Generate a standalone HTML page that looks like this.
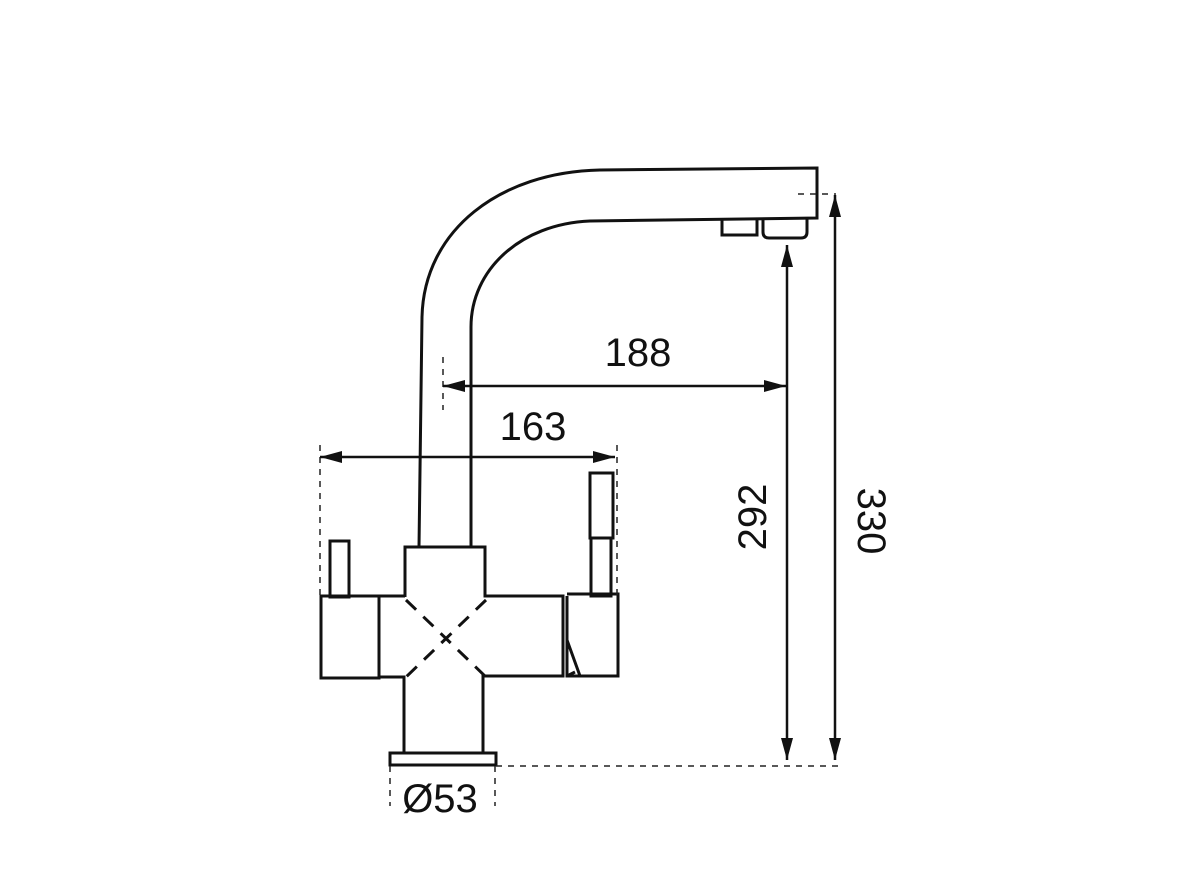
<!DOCTYPE html>
<html><head><style>body{margin:0;background:#fff}svg{display:block}</style></head><body>
<svg width="1200" height="880" viewBox="0 0 1200 880" xmlns="http://www.w3.org/2000/svg">
<defs>
<marker id="a" viewBox="0 0 22 12" refX="22" refY="6" markerWidth="22" markerHeight="12" markerUnits="userSpaceOnUse" orient="auto-start-reverse"><path d="M0 0L22 6L0 12z" fill="#111"/></marker>
</defs>
<g fill="none" stroke="#111" stroke-width="3">
<path d="M419 547 L422 317 C424 230 500 172 600 170 L817 168 L817 218 L590 221 C520 224 471 270 471 327 L471 547"/>
<path d="M722 219 V235 H757 V219"/>
<path d="M763 219 V232 Q763 238 769 238 H801 Q807 238 807 232 V219"/>
<path d="M405 597 V547 H485 V596 H563 V676 H483 V754 M404 754 V677 H379"/>
<rect x="321" y="596" width="58" height="82"/>
<rect x="330" y="541" width="19" height="56"/>
<rect x="390" y="753" width="106" height="12"/>
<path d="M379 596 H405"/>
<path d="M567 596 V676 H618 V594 H567"/>
<path d="M567 640 L580 676 M567 676 L575 672"/>
<rect x="590" y="473" width="23" height="65"/>
<rect x="591" y="538" width="20" height="58"/>
</g>
<g stroke="#111" stroke-width="3" stroke-dasharray="14 10">
<path d="M406 600 L486 677"/><path d="M486 600 L406 677"/>
</g>
<g stroke="#222" stroke-width="1.5" stroke-dasharray="6 6" fill="none">
<path d="M320 445 V596"/><path d="M617 445 V596"/>
<path d="M443 357 V410"/>
<path d="M496 766 H838"/>
<path d="M798 194 H836"/>
<path d="M390 766 V806"/><path d="M495 766 V806"/>
</g>
<g stroke="#111" stroke-width="2.5">
<line x1="320" y1="457" x2="615" y2="457" marker-start="url(#a)" marker-end="url(#a)"/>
<line x1="443" y1="386" x2="786" y2="386" marker-start="url(#a)" marker-end="url(#a)"/>
<line x1="787" y1="245" x2="787" y2="760" marker-start="url(#a)" marker-end="url(#a)"/>
<line x1="835" y1="195" x2="835" y2="760" marker-start="url(#a)" marker-end="url(#a)"/>
</g>
<g font-family="Liberation Sans, sans-serif" font-size="40" fill="#111" text-anchor="middle">
<text x="638" y="366">188</text>
<text x="533" y="440">163</text>
<text x="440" y="812">Ø53</text>
<text transform="translate(766 517) rotate(-90)">292</text>
<text transform="translate(858 521) rotate(90)">330</text>
</g>
</svg>
</body></html>
